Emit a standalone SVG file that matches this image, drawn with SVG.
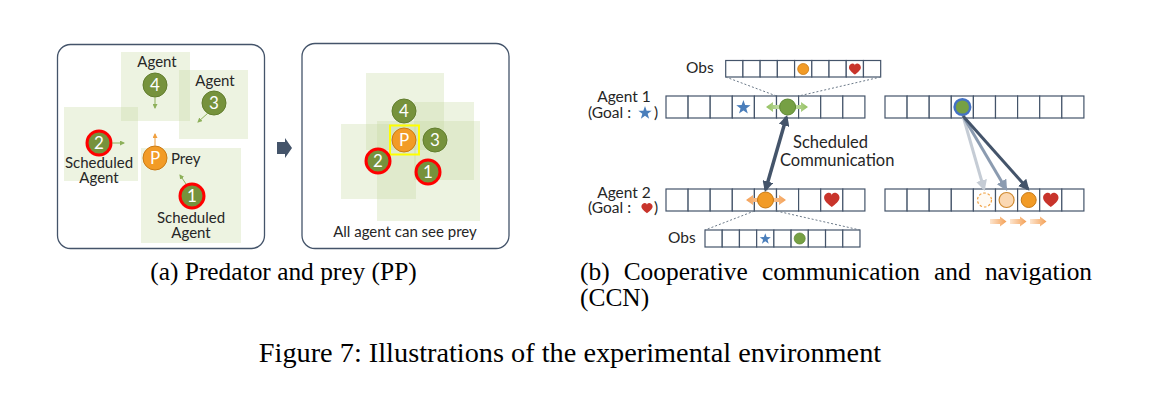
<svg xmlns="http://www.w3.org/2000/svg" xmlns:xlink="http://www.w3.org/1999/xlink" width="1159" height="401" viewBox="0 0 1159 401">
<style>
.bg{fill:#ffffff}
.panel{fill:#ffffff;stroke:#44546a;stroke-width:1.3}
.sq{fill:#c3d69b;fill-opacity:0.3}
.ag{fill:#76923c;stroke:#627d2e;stroke-width:1}
.sched{stroke:#ff0000;stroke-width:3}
.prey{fill:#f29b26;stroke:#c97a14;stroke-width:1}
.num{font-family:Lato,"Open Sans",sans-serif;font-size:17px;fill:#ffffff;text-anchor:middle}
.lbl{font-family:Lato,"Open Sans",sans-serif;font-size:15px;fill:#262626}
.mid{text-anchor:middle}
.lblb{font-family:Lato,"Open Sans",sans-serif;font-size:15.5px;fill:#262626}
.cell{fill:#ffffff;stroke:#44546a;stroke-width:1.2}
.dot{fill:none;stroke:#6c7a89;stroke-width:1;stroke-dasharray:2 2}
.cap{font-family:"Liberation Serif","Times New Roman",serif;font-size:25.4px;fill:#000000}
.fig{font-family:"Liberation Serif","Times New Roman",serif;font-size:28.3px;fill:#000000}
.heart{fill:#c8342b}
.star{fill:#4a7ebb}
.garr{fill:none;stroke:#8db05a;stroke-width:1}
.oarr{fill:none;stroke:#f0a040;stroke-width:1}
</style>
<defs>
<path id="heart" d="M0,6 C-3,3.5 -7,0.5 -7,-2.5 C-7,-5.5 -4.5,-7 -2.6,-7 C-1.2,-7 0,-6 0,-4.6 C0,-6 1.2,-7 2.6,-7 C4.5,-7 7,-5.5 7,-2.5 C7,0.5 3,3.5 0,6 Z"/>
<path id="star" d="M0,-10 L2.35,-3.24 L9.51,-3.09 L3.80,1.24 L5.88,8.09 L0,4 L-5.88,8.09 L-3.80,1.24 L-9.51,-3.09 L-2.35,-3.24 Z"/>
<marker id="mg" viewBox="0 0 10 10" refX="8" refY="5" markerUnits="userSpaceOnUse" markerWidth="5" markerHeight="5" orient="auto"><path d="M0,0 L10,5 L0,10 z" fill="#8db05a"/></marker>
<marker id="mo" viewBox="0 0 10 10" refX="8" refY="5" markerUnits="userSpaceOnUse" markerWidth="5" markerHeight="5" orient="auto"><path d="M0,0 L10,5 L0,10 z" fill="#f0a040"/></marker>
<marker id="md" viewBox="0 0 10 10" refX="8" refY="5" markerUnits="userSpaceOnUse" markerWidth="11" markerHeight="11" orient="auto-start-reverse"><path d="M0,0 L10,5 L0,10 z" fill="#44546a"/></marker>
<marker id="ml" viewBox="0 0 10 10" refX="8" refY="5" markerUnits="userSpaceOnUse" markerWidth="11" markerHeight="11" orient="auto"><path d="M0,0 L10,5 L0,10 z" fill="#c5ccd5"/></marker>
<marker id="mm" viewBox="0 0 10 10" refX="8" refY="5" markerUnits="userSpaceOnUse" markerWidth="11" markerHeight="11" orient="auto"><path d="M0,0 L10,5 L0,10 z" fill="#8b9bb0"/></marker>
<linearGradient id="gg" gradientUnits="userSpaceOnUse" x1="766" y1="0" x2="808" y2="0"><stop offset="0" stop-color="#92c05e"/><stop offset="0.5" stop-color="#dcebcf"/><stop offset="1" stop-color="#92c05e"/></linearGradient>
<linearGradient id="go" gradientUnits="userSpaceOnUse" x1="746" y1="0" x2="786" y2="0"><stop offset="0" stop-color="#f4a055"/><stop offset="0.5" stop-color="#fbd7b5"/><stop offset="1" stop-color="#f4a055"/></linearGradient>
<linearGradient id="gs"><stop offset="0" stop-color="#fde5cf"/><stop offset="1" stop-color="#f4a055"/></linearGradient>
</defs>
<rect class="bg" x="0" y="0" width="1159" height="401"/>

<!-- Panel (a) left -->
<g id="panel-a1">
<rect class="panel" x="57.5" y="44.5" width="207" height="204" rx="13"/>
<rect class="sq" x="121" y="52" width="69" height="69"/>
<rect class="sq" x="179" y="70" width="69" height="69"/>
<rect class="sq" x="64" y="107" width="74" height="74"/>
<rect class="sq" x="141" y="148" width="100" height="95"/>
</g>
<g id="agent4-a">
<text class="lbl mid" x="157" y="67">Agent</text>
<circle class="ag" cx="155" cy="85" r="12"/>
<text class="num" x="155" y="91">4</text>
</g>
<g id="agent3-a">
<text class="lbl mid" x="215" y="86">Agent</text>
<circle class="ag" cx="214" cy="103" r="12"/>
<text class="num" x="214" y="109">3</text>
</g>
<g id="agent2-a">
<circle class="ag sched" cx="99" cy="143" r="12"/>
<text class="num" x="99" y="149">2</text>
<text class="lbl mid" x="99" y="168">Scheduled</text>
<text class="lbl mid" x="99" y="183">Agent</text>
</g>
<g id="prey-a">
<circle class="prey" cx="155" cy="158" r="12"/>
<text class="num" x="155" y="164">P</text>
<text class="lbl" x="171" y="164">Prey</text>
</g>
<g id="agent1-a">
<circle class="ag sched" cx="192" cy="196" r="12"/>
<text class="num" x="192" y="202">1</text>
<text class="lbl mid" x="191" y="223">Scheduled</text>
<text class="lbl mid" x="191" y="238">Agent</text>
</g>
<g id="moves-a">
<line class="garr" x1="155" y1="97" x2="155" y2="108" marker-end="url(#mg)"/>
<line class="garr" x1="208" y1="113" x2="198" y2="122" marker-end="url(#mg)"/>
<line class="garr" x1="112" y1="143" x2="124" y2="143" marker-end="url(#mg)"/>
<line class="oarr" x1="155" y1="146" x2="155" y2="134" marker-end="url(#mo)"/>
<line class="garr" x1="186" y1="184" x2="180" y2="175" marker-end="url(#mg)"/>
</g>

<!-- transition arrow -->
<g id="transition">
<polygon points="277,142 285,142 285,138 292,148 285,158 285,154 277,154" fill="#44546a"/>
</g>

<!-- Panel (a) right -->
<g id="panel-a2">
<rect class="panel" x="302" y="43.5" width="207" height="205" rx="13"/>
<rect class="sq" x="366" y="73" width="78" height="77"/>
<rect class="sq" x="414" y="102" width="60" height="78"/>
<rect class="sq" x="341" y="124" width="75" height="75"/>
<rect class="sq" x="377" y="121" width="103" height="100"/>
<text class="lbl mid" x="405" y="237">All agent can see prey</text>
</g>
<g id="agent4-b"><circle class="ag" cx="404" cy="111" r="12"/><text class="num" x="404" y="117">4</text></g>
<g id="prey-b">
<rect x="390" y="125.5" width="29" height="29" fill="none" stroke="#ffff00" stroke-width="2"/>
<circle class="prey" cx="404" cy="140" r="12"/><text class="num" x="404" y="146">P</text>
</g>
<g id="agent3-b"><circle class="ag" cx="435" cy="140" r="12"/><text class="num" x="435" y="146">3</text></g>
<g id="agent2-b"><circle class="ag sched" cx="378" cy="161" r="12"/><text class="num" x="378" y="167">2</text></g>
<g id="agent1-b"><circle class="ag sched" cx="428" cy="172" r="12"/><text class="num" x="428" y="178">1</text></g>

<!-- Panel (b) -->
<g id="obs1">
<text class="lblb" x="686" y="73">Obs</text>
<g transform="translate(725.7,60.5)">
<rect class="cell" x="0" y="0" width="17.22" height="16.5"/><rect class="cell" x="17.22" y="0" width="17.22" height="16.5"/><rect class="cell" x="34.44" y="0" width="17.22" height="16.5"/><rect class="cell" x="51.66" y="0" width="17.22" height="16.5"/><rect class="cell" x="68.88" y="0" width="17.22" height="16.5"/><rect class="cell" x="86.1" y="0" width="17.22" height="16.5"/><rect class="cell" x="103.32" y="0" width="17.22" height="16.5"/><rect class="cell" x="120.54" y="0" width="17.22" height="16.5"/><rect class="cell" x="137.76" y="0" width="17.22" height="16.5"/>
</g>
<circle cx="803.2" cy="69" r="5.5" fill="#f29b26" stroke="#c97a14" stroke-width="0.8"/>
<use href="#heart" class="heart" transform="translate(854.9,69.5) scale(0.85)"/>
</g>
<g id="agent1-row">
<text class="lblb mid" x="624" y="102">Agent 1</text>
<text class="lblb" x="588" y="118">(Goal :</text>
<use href="#star" class="star" transform="translate(645,113) scale(0.7)"/>
<text class="lblb" x="654" y="118">)</text>
<g transform="translate(666,96)">
<rect class="cell" x="0" y="0" width="22.1" height="22"/><rect class="cell" x="22.1" y="0" width="22.1" height="22"/><rect class="cell" x="44.2" y="0" width="22.1" height="22"/><rect class="cell" x="66.3" y="0" width="22.1" height="22"/><rect class="cell" x="88.4" y="0" width="22.1" height="22"/><rect class="cell" x="110.5" y="0" width="22.1" height="22"/><rect class="cell" x="132.6" y="0" width="22.1" height="22"/><rect class="cell" x="154.7" y="0" width="22.1" height="22"/><rect class="cell" x="176.8" y="0" width="22.1" height="22"/>
</g>
<use href="#star" class="star" transform="translate(743.4,107.5) scale(0.75)"/>
<polygon points="766,107 773,102 773,105 801,105 801,102 808,107 801,112 801,109 773,109 773,112" fill="url(#gg)"/>
<circle cx="787.6" cy="107" r="8" fill="#76a044" stroke="#5f8a34" stroke-width="1"/>
</g>
<g id="agent2-row">
<text class="lblb mid" x="624" y="198">Agent 2</text>
<text class="lblb" x="588" y="213">(Goal :</text>
<use href="#heart" class="heart" transform="translate(647,208.5) scale(0.8)"/>
<text class="lblb" x="654" y="213">)</text>
<g transform="translate(666,189)">
<rect class="cell" x="0" y="0" width="22.1" height="22"/><rect class="cell" x="22.1" y="0" width="22.1" height="22"/><rect class="cell" x="44.2" y="0" width="22.1" height="22"/><rect class="cell" x="66.3" y="0" width="22.1" height="22"/><rect class="cell" x="88.4" y="0" width="22.1" height="22"/><rect class="cell" x="110.5" y="0" width="22.1" height="22"/><rect class="cell" x="132.6" y="0" width="22.1" height="22"/><rect class="cell" x="154.7" y="0" width="22.1" height="22"/><rect class="cell" x="176.8" y="0" width="22.1" height="22"/>
</g>
<polygon points="746,200 753,195 753,198 779,198 779,195 786,200 779,205 779,202 753,202 753,205" fill="url(#go)"/>
<circle cx="765.5" cy="200" r="8" fill="#f29b26" stroke="#c97a14" stroke-width="1"/>
<use href="#heart" class="heart" transform="translate(831.8,200.5) scale(1.1)"/>
</g>
<g id="obs2">
<text class="lblb" x="668" y="243">Obs</text>
<g transform="translate(705,230)">
<rect class="cell" x="0" y="0" width="17.22" height="17"/><rect class="cell" x="17.22" y="0" width="17.22" height="17"/><rect class="cell" x="34.44" y="0" width="17.22" height="17"/><rect class="cell" x="51.66" y="0" width="17.22" height="17"/><rect class="cell" x="68.88" y="0" width="17.22" height="17"/><rect class="cell" x="86.1" y="0" width="17.22" height="17"/><rect class="cell" x="103.32" y="0" width="17.22" height="17"/><rect class="cell" x="120.54" y="0" width="17.22" height="17"/><rect class="cell" x="137.76" y="0" width="17.22" height="17"/>
</g>
<use href="#star" class="star" transform="translate(765.3,239) scale(0.58)"/>
<circle cx="799.7" cy="238.5" r="5.5" fill="#76a044" stroke="#5f8a34" stroke-width="0.8"/>
</g>
<g id="comm-label">
<text class="lbl" x="793" y="148" style="font-size:16.5px">Scheduled</text>
<text class="lbl" x="780" y="166" style="font-size:16.5px">Communication</text>
</g>
<g id="top-right-row">
<g transform="translate(885,96)">
<rect class="cell" x="0" y="0" width="22.1" height="22"/><rect class="cell" x="22.1" y="0" width="22.1" height="22"/><rect class="cell" x="44.2" y="0" width="22.1" height="22"/><rect class="cell" x="66.3" y="0" width="22.1" height="22"/><rect class="cell" x="88.4" y="0" width="22.1" height="22"/><rect class="cell" x="110.5" y="0" width="22.1" height="22"/><rect class="cell" x="132.6" y="0" width="22.1" height="22"/><rect class="cell" x="154.7" y="0" width="22.1" height="22"/><rect class="cell" x="176.8" y="0" width="22.1" height="22"/>
</g>
<circle cx="962.4" cy="107" r="7.8" fill="#76a044" stroke="#4472c4" stroke-width="2.5"/>
</g>
<g id="bottom-right-row">
<g transform="translate(885,189)">
<rect class="cell" x="0" y="0" width="22.1" height="22"/><rect class="cell" x="22.1" y="0" width="22.1" height="22"/><rect class="cell" x="44.2" y="0" width="22.1" height="22"/><rect class="cell" x="66.3" y="0" width="22.1" height="22"/><rect class="cell" x="88.4" y="0" width="22.1" height="22"/><rect class="cell" x="110.5" y="0" width="22.1" height="22"/><rect class="cell" x="132.6" y="0" width="22.1" height="22"/><rect class="cell" x="154.7" y="0" width="22.1" height="22"/><rect class="cell" x="176.8" y="0" width="22.1" height="22"/>
</g>
<circle cx="984.5" cy="200" r="7" fill="#fffaf3" stroke="#f0a040" stroke-width="1.2" stroke-dasharray="2.5 2"/>
<circle cx="1006.6" cy="200" r="7.5" fill="#fbd8b2" stroke="#d08a30" stroke-width="1.2"/>
<circle cx="1028.7" cy="200" r="7.5" fill="#f29b26" stroke="#c97a14" stroke-width="1"/>
<use href="#heart" class="heart" transform="translate(1050.8,200.5) scale(1.1)"/>
<polygon points="990,219 1000,219 1000,216.5 1006.5,221.5 1000,226.5 1000,224 990,224" fill="url(#gs)"/>
<polygon points="1010,219 1020,219 1020,216.5 1026.5,221.5 1020,226.5 1020,224 1010,224" fill="url(#gs)"/>
<polygon points="1030,219 1040,219 1040,216.5 1046.5,221.5 1040,226.5 1040,224 1030,224" fill="url(#gs)"/>
</g>
<g id="connectors">
<line class="dot" x1="725.7" y1="77" x2="776.5" y2="96"/>
<line class="dot" x1="880.7" y1="77" x2="798.7" y2="96"/>
<line class="dot" x1="754.4" y1="211" x2="705" y2="230"/>
<line class="dot" x1="776.5" y1="211" x2="860" y2="230"/>
<line x1="786.5" y1="117" x2="765.5" y2="190" stroke="#44546a" stroke-width="3.5" marker-start="url(#md)" marker-end="url(#md)"/>
<line x1="963" y1="116" x2="984" y2="189" stroke="#c5ccd5" stroke-width="3" marker-end="url(#ml)"/>
<line x1="963" y1="116" x2="1006" y2="189" stroke="#8b9bb0" stroke-width="3" marker-end="url(#mm)"/>
<line x1="963" y1="116" x2="1028" y2="189" stroke="#44546a" stroke-width="3" marker-end="url(#md)"/>
</g>

<!-- Captions -->
<g id="captions">
<text class="cap" x="283.5" y="280" text-anchor="middle">(a) Predator and prey (PP)</text>
<text class="cap" x="580" y="280">(b)</text>
<text class="cap" x="623.7" y="280">Cooperative</text>
<text class="cap" x="762" y="280">communication</text>
<text class="cap" x="934.1" y="280">and</text>
<text class="cap" x="984.9" y="280">navigation</text>
<text class="cap" x="580" y="306">(CCN)</text>
<text class="fig" x="570" y="362" text-anchor="middle">Figure 7: Illustrations of the experimental environment</text>
</g>
</svg>
